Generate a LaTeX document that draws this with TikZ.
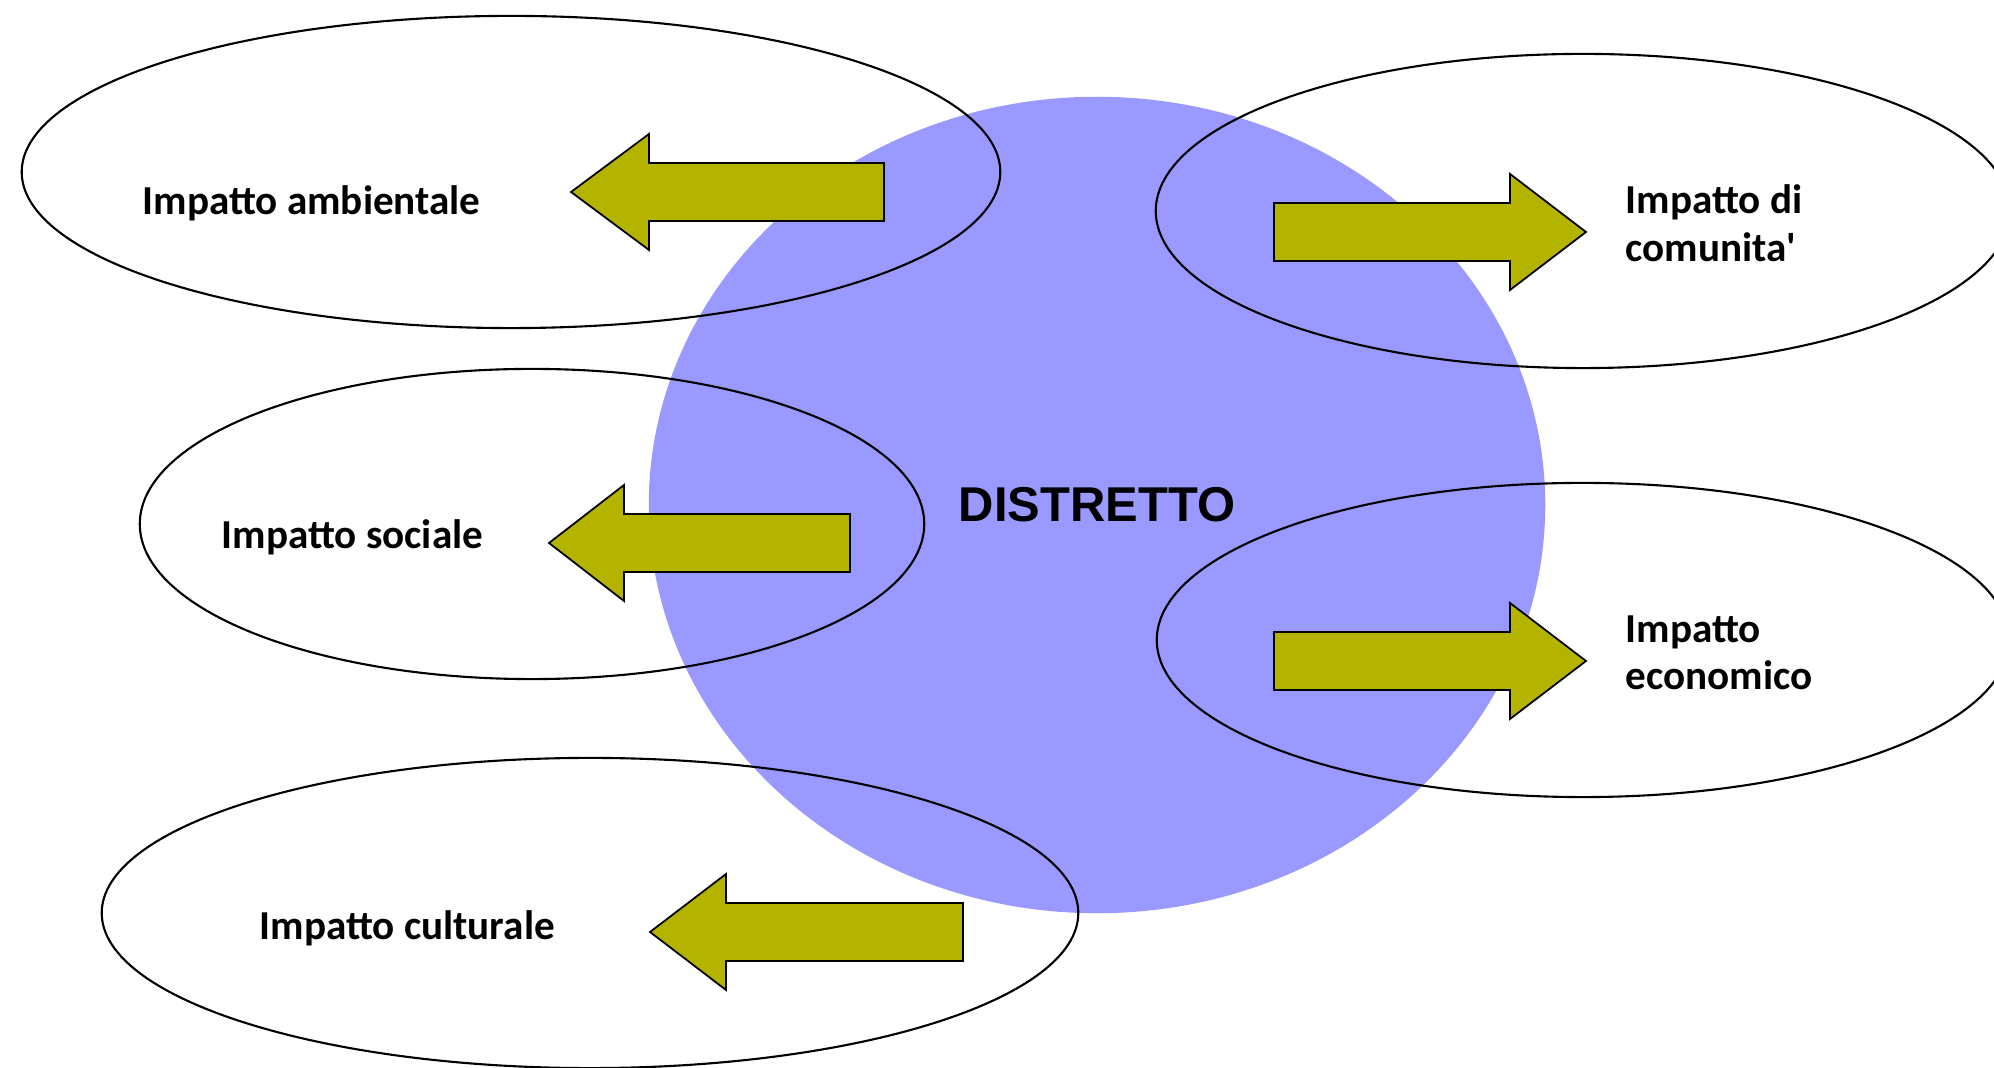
\documentclass[tikz,border=0pt]{standalone}
\usepackage{fontspec}
\newfontfamily\lblfont{Carlito}
\newfontfamily\arialfont{Liberation Sans}
\usetikzlibrary{shapes.geometric}
\definecolor{distblue}{HTML}{9999FF}
\definecolor{olivearrow}{HTML}{B3B300}
\begin{document}
\begin{tikzpicture}[x=0.01cm,y=-0.01cm,
  ell/.style={draw=black, line width=0.6pt, ellipse, inner sep=0pt},
  blockarrow/.style={draw=black, line width=0.5pt, fill=olivearrow, line join=miter},
  lbl/.style={anchor=west, inner sep=0pt, font=\lblfont\fontsize{11.7}{13.5}\selectfont\bfseries, align=left}]
\useasboundingbox (0,0) rectangle (1994,1068);
\fill[white] (0,0) rectangle (1994,1068);
% central district
\node[ellipse, fill=distblue, inner sep=0pt, minimum width=8.96cm, minimum height=8.16cm] (dist) at (1097,505) {};
\node[font=\arialfont\fontsize{13.9}{16}\selectfont\bfseries] (distlbl) at (1097,505) {DISTRETTO};
% ellipses
\node[ell, minimum width=9.78cm, minimum height=3.12cm] (amb) at (511,172) {};
\node[ell, minimum width=8.54cm, minimum height=3.14cm] (com) at (1583,211) {};
\node[ell, minimum width=7.84cm, minimum height=3.10cm] (soc) at (532,524) {};
\node[ell, minimum width=8.52cm, minimum height=3.14cm] (eco) at (1583,640) {};
\node[ell, minimum width=9.76cm, minimum height=3.10cm] (cul) at (590,913) {};
% arrows (left)
\draw[blockarrow] (571,192) -- (649,134) -- (649,163) -- (884,163) -- (884,221) -- (649,221) -- (649,250) -- cycle;
\draw[blockarrow] (549,543) -- (624,485) -- (624,514) -- (850,514) -- (850,572) -- (624,572) -- (624,601) -- cycle;
\draw[blockarrow] (650,932) -- (726,874) -- (726,903) -- (963,903) -- (963,961) -- (726,961) -- (726,990) -- cycle;
% arrows (right)
\draw[blockarrow] (1586,232) -- (1510,174) -- (1510,203) -- (1274,203) -- (1274,261) -- (1510,261) -- (1510,290) -- cycle;
\draw[blockarrow] (1586,661) -- (1510,603) -- (1510,632) -- (1274,632) -- (1274,690) -- (1510,690) -- (1510,719) -- cycle;
% labels
\node[lbl] (tamb) at (142,203) {Impatto ambientale};
\node[lbl] (tcom) at (1625,223) {Impatto di\\comunita'};
\node[lbl] (tsoc) at (221,537) {Impatto sociale};
\node[lbl] (teco) at (1625,653) {Impatto\\economico};
\node[lbl] (tcul) at (259,928) {Impatto culturale};
\end{tikzpicture}
\end{document}
